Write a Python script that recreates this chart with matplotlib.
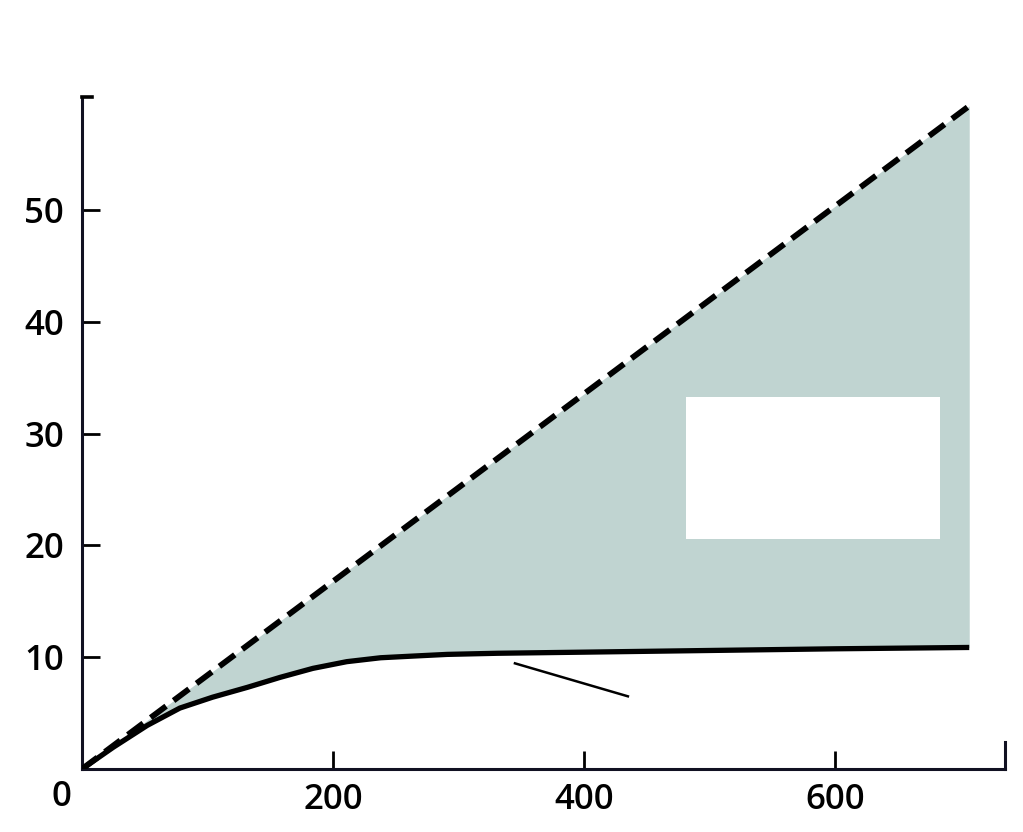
import matplotlib
matplotlib.use('Agg')
import matplotlib.pyplot as plt
from matplotlib.patches import Rectangle
import numpy as np

# dashed straight line (upper bound)
line_x = [0, 707]
line_y = [0, 59.3]

# solid saturating curve (lower bound)
curve_x = [0, 25, 52, 78, 104, 132, 158, 184, 211, 238, 264, 291, 331, 400, 500, 600, 707]
curve_y = [0, 1.95, 3.9, 5.45, 6.42, 7.31, 8.2, 9.0, 9.6, 9.95, 10.1, 10.25, 10.35, 10.45, 10.6, 10.75, 10.87]

x_ticks = [200, 400, 600]
y_ticks = [10, 20, 30, 40, 50]

# blanked label box and pointer line
box_x, box_y, box_w, box_h = 481, 20.6, 203, 12.7
pointer_x = [345, 435]
pointer_y = [9.45, 6.5]

fill_color = '#c0d4d1'

plt.rcParams['font.family'] = ['Open Sans', 'DejaVu Sans']

fig = plt.figure(figsize=(10.23, 8.32), dpi=100)
ax = fig.add_axes([82 / 1023, 63 / 832, (1005 - 82) / 1023, (769 - 97) / 832])
ax.set_xlim(0, 735.5)
ax.set_ylim(0, 60.1)

upper = np.interp(curve_x, line_x, line_y)
ax.fill_between(curve_x, curve_y, upper, color=fill_color, lw=0, zorder=1)
ax.plot(line_x, line_y, color='black', lw=4.2, ls=(0, (3.3, 1.6)), zorder=3)
ax.plot(curve_x, curve_y, color='black', lw=3.8, zorder=3,
        solid_capstyle='butt', solid_joinstyle='round')

ax.add_patch(Rectangle((box_x, box_y), box_w, box_h, facecolor='white', edgecolor='none', zorder=4))
ax.plot(pointer_x, pointer_y, color='black', lw=1.8, zorder=3)

for s in ['top', 'right']:
    ax.spines[s].set_visible(False)
for s in ['left', 'bottom']:
    ax.spines[s].set_linewidth(2.2)
    ax.spines[s].set_color('#111122')

# short cap at top of y axis and end tick on x axis
ax.plot([0, 8], [60.1, 60.1], color='black', lw=2.6, clip_on=False, zorder=5)
ax.plot([735.5, 735.5], [0, 2.4], color='#111122', lw=2.2, clip_on=False, zorder=5)

ax.set_xticks(x_ticks)
ax.set_yticks(y_ticks)
ax.tick_params(direction='in', length=13, width=2.0, labelsize=25, colors='black')
ax.tick_params(axis='y', pad=13)
ax.tick_params(axis='x', pad=10)
for lab in ax.get_xticklabels() + ax.get_yticklabels():
    lab.set_fontweight('semibold')

ax.annotate('0', xy=(0, 0), xytext=(-14.5, -20), textcoords='offset points',
            ha='center', va='center', fontsize=25, fontweight='semibold')

fig.savefig('out.png', dpi=100)
